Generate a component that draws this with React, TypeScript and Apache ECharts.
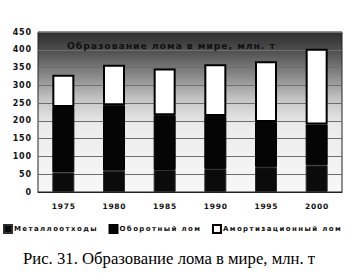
import React, { useEffect, useRef } from "react";
import * as echarts from "echarts";

// Годы и объёмы образования лома, млн. т
const years = ["1975", "1980", "1985", "1990", "1995", "2000"];
const metalWaste = [55, 60, 62, 65, 70, 75];
const circulatingTotal = [239, 244, 216, 214, 197, 190];
const totalScrap = [330, 358, 347, 359, 368, 403];

const circulatingScrap = circulatingTotal.map((v, i) => v - metalWaste[i]);
const depreciationScrap = totalScrap.map((v, i) => v - circulatingTotal[i]);

const yTicks = [0, 50, 100, 150, 200, 250, 300, 350, 400, 450];

const seriesNames = ["Металлоотходы", "Оборотный лом", "Амортизационный лом"];
const chartTitle = "Образование лома в мире, млн. т";
const caption = "Рис. 31. Образование лома в мире, млн. т";

// разрядка: тонкий пробел между буквами
const spaced = (s: string, sep = "\u2009") => s.split("").join(sep);

export default function App() {
  const ref = useRef<HTMLDivElement>(null);

  useEffect(() => {
    if (!ref.current) return;
    const chart = echarts.init(ref.current, null, { renderer: "svg" });
    const boldSans = "DejaVu Sans";
    chart.setOption({
      animation: false,
      backgroundColor: "#ffffff",
      grid: {
        left: 38,
        right: 14,
        top: 32,
        bottom: 83,
        show: true,
        borderColor: "#222",
        borderWidth: 1,
        backgroundColor: new echarts.graphic.LinearGradient(0, 0, 0, 1, [
          { offset: 0, color: "#2c2c2c" },
          { offset: 0.12, color: "#505050" },
          { offset: 0.28, color: "#8c8c8c" },
          { offset: 0.42, color: "#c4c4c4" },
          { offset: 0.58, color: "#ebebeb" },
          { offset: 1, color: "#f8f8f8" },
        ]),
      },
      title: {
        text: spaced(chartTitle, "\u200A"),
        left: 62,
        top: 36,
        textStyle: {
          fontFamily: boldSans,
          fontWeight: "bold",
          fontSize: 9.3,
          color: "#111",
        },
      },
      legend: {
        left: 3,
        top: 224,
        padding: 0,
        itemWidth: 8,
        itemHeight: 8,
        itemGap: 12,
        icon: "rect",
        formatter: (n: string) => spaced(n),
        textStyle: {
          fontFamily: boldSans,
          fontWeight: "bold",
          fontSize: 7,
          color: "#111",
          padding: [0, 0, 0, -3],
        },
        data: seriesNames.map((n) => ({ name: n })),
      },
      xAxis: {
        type: "category",
        data: years,
        axisLine: { lineStyle: { color: "#222" } },
        axisTick: { show: false },
        axisLabel: {
          margin: 10,
          fontFamily: boldSans,
          fontWeight: "bold",
          fontSize: 7.5,
          color: "#111",
          formatter: (v: string) => spaced(v, "\u200A"),
        },
      },
      yAxis: {
        type: "value",
        min: yTicks[0],
        max: yTicks[yTicks.length - 1],
        interval: 50,
        axisLine: { show: false },
        axisTick: { show: false },
        splitLine: { lineStyle: { color: "#6e6e6e", width: 1 } },
        axisLabel: {
          margin: 7,
          fontFamily: boldSans,
          fontWeight: "bold",
          fontSize: 8,
          color: "#111",
          formatter: (v: number) => spaced(String(v), "\u200A"),
        },
      },
      series: [
        {
          name: seriesNames[0],
          type: "bar",
          stack: "scrap",
          barWidth: 22,
          data: metalWaste,
          itemStyle: { color: "#0b0b0b", borderColor: "#2e2e2e", borderWidth: 1 },
        },
        {
          name: seriesNames[1],
          type: "bar",
          stack: "scrap",
          barWidth: 22,
          data: circulatingScrap,
          itemStyle: { color: "#050505", borderColor: "#000", borderWidth: 1 },
        },
        {
          name: seriesNames[2],
          type: "bar",
          stack: "scrap",
          barWidth: 22,
          data: depreciationScrap,
          itemStyle: { color: "#ffffff", borderColor: "#000", borderWidth: 2 },
        },
      ],
      graphic: [
        {
          type: "text",
          left: 23,
          top: 250,
          style: {
            text: caption,
            fontFamily: "Liberation Serif",
            fontSize: 16.7,
            fill: "#000",
          },
        },
      ],
    });
    return () => chart.dispose();
  }, []);

  return (
    <div
      ref={ref}
      style={{ position: "fixed", left: 0, top: 0, width: 356, height: 275 }}
    />
  );
}
